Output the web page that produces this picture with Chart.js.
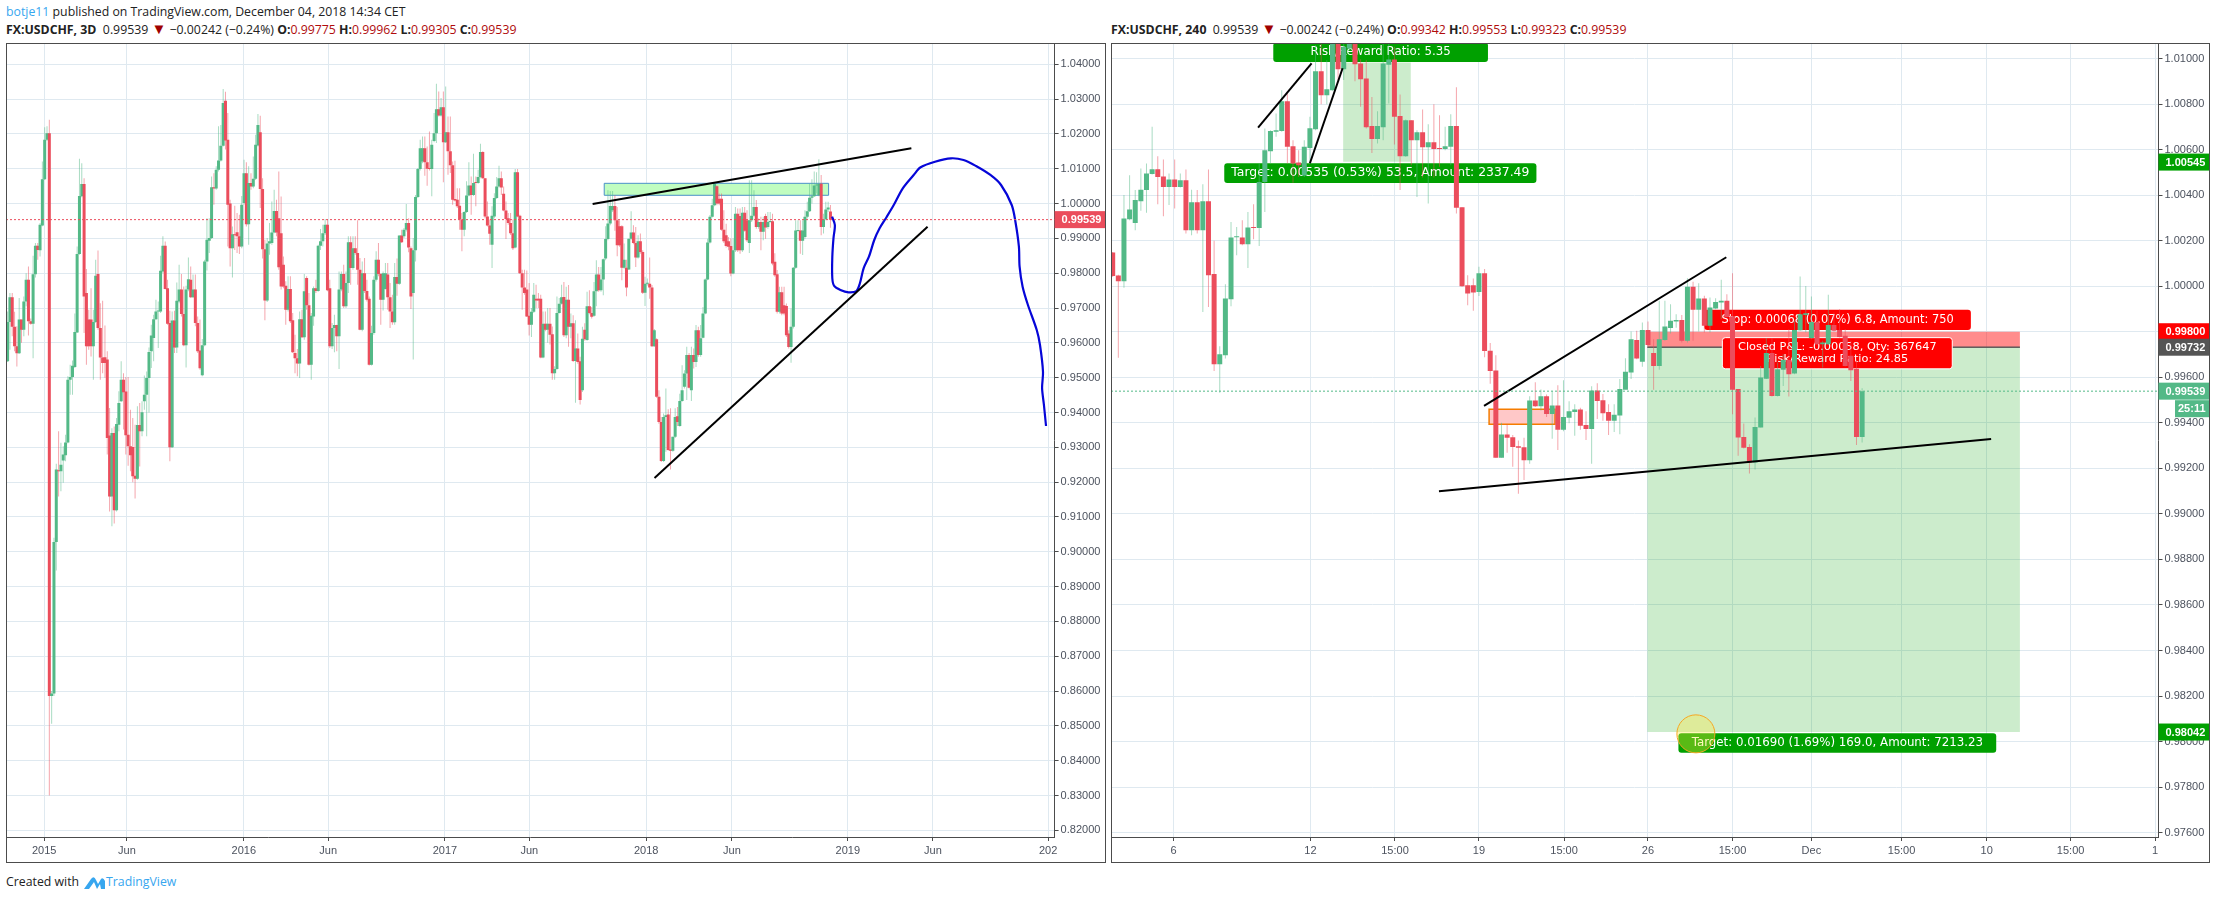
<!DOCTYPE html>
<html>
<head>
<meta charset="utf-8">
<title>USDCHF</title>
<script src="https://cdn.jsdelivr.net/npm/chart.js@4"></script>
<style>
	html, body { margin: 0; padding: 0; background: #fff; }
	body { width: 2217px; height: 899px; position: relative; overflow: hidden; font-family: "Open Sans", sans-serif; color: #222; }
	.line { position: absolute; white-space: pre; font-size: 12.3px; line-height: 17px; }
	.line b { font-weight: 700; }
	.line i { font-style: normal; color: #b00c0c; }
	.line u { text-decoration: none; color: #a00000; font-size: 15px; line-height: 1; }
	.frame { position: absolute; box-sizing: border-box; border: 1px solid #4c4c4c; top: 43px; height: 820px; pointer-events: none; }
	canvas { position: absolute; top: 43px; }
	.blue { color: #37a6ef; }
</style>
</head>
<body>
<div class="line" style="left:6px;top:3px"><span class="blue">botje11</span> published on TradingView.com, December 04, 2018 14:34 CET</div>
<div class="line" style="left:6px;top:21px"><b>FX:USDCHF, 3D</b>  0.99539 <u>▼</u> −0.00242 (−0.24%) <b>O:</b><i>0.99775</i> <b>H:</b><i>0.99962</i> <b>L:</b><i>0.99305</i> <b>C:</b><i>0.99539</i></div>
<div class="line" style="left:1111px;top:21px"><b>FX:USDCHF, 240</b>  0.99539 <u>▼</u> −0.00242 (−0.24%) <b>O:</b><i>0.99342</i> <b>H:</b><i>0.99553</i> <b>L:</b><i>0.99323</i> <b>C:</b><i>0.99539</i></div>
<canvas id="left-chart" width="1100" height="820" style="left:6px"></canvas>
<canvas id="right-chart" width="1099" height="820" style="left:1111px"></canvas>
<div class="frame" style="left:6px;width:1100px"></div>
<div class="frame" style="left:1111px;width:1099px"></div>
<div class="line" style="left:6px;top:873px">Created with</div>
<svg style="position:absolute;left:83px;top:874px" width="23" height="16" viewBox="0 0 23 16"><path d="M1 15 L8 5 Q11 1 13 6 L15 10 L18 5 Q20 3 22 7 L22 15 L18 15 L17 10 L14 15 L11 8 L6 15 Z" fill="#37a6ef"/></svg>
<div class="line blue" style="left:106px;top:873px">TradingView</div>

<script>
( function () {
	'use strict';

	// 3D candles, 2015 to Dec 2018
	var leftOpen = [
		.9547,.9660,.9731,.9646,.9590,.9570,.9667,.9638,.9719,.9781,
		.9662,.9655,.9797,.9879,.9866,.9937,1.0070,1.0183,1.0202,.8586,
		.8593,.9028,.9234,.9231,.9262,.9277,.9314,.9494,.9502,.9531,
		.9630,.9855,1.0021,1.0056,.9743,.9667,.9667,.9590,.9660,.9798,
		.9643,.9558,.9559,.9552,.9334,.9159,.9341,.9119,.9365,.9432,
		.9494,.9460,.9336,.9303,.9301,.9218,.9210,.9364,.9346,.9432,
		.9451,.9499,.9576,.9614,.9668,.9690,.9690,.9805,.9879,.9757,
		.9657,.9300,.9664,.9587,.9719,.9753,.9683,.9593,.9753,.9781,
		.9731,.9753,.9657,.9578,.9507,.9593,.9834,.9893,.9901,1.0047,
		1.0043,1.0097,1.0124,1.0166,1.0295,1.0183,1.0000,.9872,.9912,.9918,
		.9906,.9877,1.0002,1.0087,.9941,1.0059,1.0049,1.0071,1.0167,1.0205,
		1.0042,.9869,.9722,.9885,.9887,.9917,.9979,.9958,.9915,.9824,
		.9764,.9695,.9755,.9665,.9571,.9556,.9541,.9668,.9616,.9786,
		.9708,.9537,.9676,.9757,.9749,.9879,.9892,.9915,.9939,.9757,
		.9590,.9643,.9651,.9619,.9753,.9798,.9705,.9772,.9889,.9815,
		.9872,.9858,.9810,.9638,.9800,.9749,.9727,.9537,.9628,.9781,
		.9839,.9798,.9724,.9755,.9796,.9731,.9690,.9659,.9789,.9770,
		.9908,.9906,.9925,.9944,.9872,.9743,.9866,1.0019,1.0099,1.0121,
		1.0159,1.0119,1.0102,1.0099,1.0180,1.0202,1.0271,1.0253,1.0277,1.0176,
		1.0205,1.0150,1.0110,1.0013,1.0011,.9994,.9954,.9925,.9976,1.0023,
		1.0052,1.0025,1.0062,1.0059,1.0076,1.0148,1.0073,.9963,.9937,.9882,
		.9963,1.0016,1.0049,1.0073,1.0028,.9980,.9958,.9944,.9915,.9874,
		1.0090,.9965,.9800,.9759,.9753,.9678,.9652,.9689,.9727,.9727,
		.9727,.9558,.9655,.9638,.9655,.9625,.9513,.9525,.9686,.9712,
		.9732,.9622,.9724,.9646,.9656,.9548,.9584,.9547,.9464,.9638,
		.9608,.9705,.9686,.9678,.9748,.9796,.9751,.9782,.9842,.9898,
		.9943,.9981,.9993,.9952,.9935,.9935,.9816,.9816,.9811,.9899,
		.9917,.9887,.9845,.9892,.9861,.9744,.9770,.9770,.9759,.9590,
		.9610,.9445,.9373,.9261,.9387,.9394,.9294,.9290,.9330,.9389,
		.9361,.9433,.9474,.9512,.9565,.9464,.9565,.9545,.9636,.9565,
		.9615,.9684,.9782,.9888,.9962,.9995,1.0050,1.0014,1.0014,.9925,
		.9909,.9892,.9878,.9799,.9866,.9971,.9964,.9866,.9974,.9952,
		.9887,.9952,.9965,.9990,.9933,.9947,.9919,.9964,.9933,.9947,
		.9949,.9833,.9797,.9689,.9745,.9708,.9706,.9627,.9588,.9646,
		.9816,.9921,.9923,.9893,.9904,.9962,.9978,1.0017,1.0021,1.0052,
		1.0024,1.0057,.9933,.9955,.9983,.99775
	];
	var leftHigh = [
		.9690,.9743,.9743,.9689,.9648,.9729,.9667,.9733,.9800,.9819,
		.9670,.9850,.9887,.9887,.9944,1.0121,1.0219,1.0222,1.0241,.8600,
		.9040,.9253,.9346,.9313,.9303,.9336,.9504,.9537,.9549,.9684,
		.9877,1.0129,1.0116,1.0073,.9812,.9695,.9757,.9695,.9839,.9865,
		.9714,.9721,.9650,.9576,.9413,.9355,.9360,.9384,.9461,.9547,
		.9513,.9502,.9502,.9408,.9384,.9365,.9418,.9427,.9432,.9506,
		.9518,.9587,.9652,.9681,.9724,.9719,.9850,.9906,.9891,.9781,
		.9692,.9690,.9692,.9773,.9824,.9798,.9762,.9764,.9845,.9819,
		.9796,.9796,.9676,.9667,.9611,.9839,.9958,.9958,1.0078,1.0087,
		1.0107,1.0222,1.0226,1.0329,1.0321,1.0260,1.0011,.9934,.9994,.9973,
		.9968,1.0022,1.0126,1.0119,1.0107,1.0087,1.0135,1.0198,1.0257,1.0252,
		1.0073,.9896,.9901,.9944,1.0006,1.0040,1.0011,1.0092,1.0020,.9848,
		.9777,.9791,.9791,.9686,.9623,.9582,.9690,.9695,.9798,.9791,
		.9743,.9686,.9762,.9781,.9882,.9927,.9939,.9956,.9956,.9781,
		.9657,.9681,.9652,.9805,.9805,.9824,.9805,.9906,.9906,.9906,
		.9906,.9952,.9844,.9834,.9844,.9781,.9733,.9649,.9791,.9863,
		.9887,.9800,.9805,.9829,.9829,.9772,.9738,.9829,.9842,.9908,
		.9925,.9930,.9999,.9958,.9877,.9901,1.0025,1.0102,1.0183,1.0193,
		1.0193,1.0164,1.0207,1.0183,1.0260,1.0344,1.0322,1.0303,1.0322,1.0336,
		1.0250,1.0250,1.0121,1.0123,1.0044,1.0044,.9973,.9978,1.0064,1.0119,
		1.0078,1.0143,1.0078,1.0097,1.0172,1.0150,1.0073,1.0006,.9954,.9992,
		1.0030,1.0076,1.0109,1.0092,1.0049,1.0006,.9973,.9973,.9954,1.0099,
		1.0099,.9968,.9810,.9810,.9808,.9772,.9700,.9772,.9767,.9743,
		.9738,.9690,.9690,.9700,.9700,.9647,.9533,.9733,.9729,.9767,
		.9775,.9761,.9766,.9684,.9679,.9665,.9627,.9560,.9646,.9656,
		.9747,.9751,.9703,.9775,.9837,.9818,.9818,.9842,.9935,1.0038,
		1.0036,1.0036,1.0024,.9990,.9952,.9938,.9885,.9839,.9899,.9978,
		.9938,.9933,.9909,.9914,.9866,.9790,.9785,.9845,.9766,.9640,
		.9613,.9464,.9387,.9397,.9469,.9409,.9412,.9330,.9412,.9416,
		.9454,.9536,.9521,.9589,.9571,.9589,.9584,.9651,.9646,.9651,
		.9703,.9785,.9899,.9967,1.0014,1.0059,1.0053,1.0029,1.0029,.9981,
		.9942,.9904,.9900,.9900,.9990,.9986,.9986,.9990,.9990,.9981,
		1.0067,1.0067,1.0038,1.0010,.9957,.9962,.9962,.9971,.9976,.9976,
		.9971,.9857,.9809,.9761,.9761,.9761,.9713,.9636,.9699,.9818,
		.9952,.9952,.9952,.9952,.9981,1.0005,1.0057,1.0070,1.0092,1.0090,
		1.0127,1.0082,.9971,1.0005,1.0005,.99962
	];
	var leftLow = [
		.9545,.9580,.9619,.9576,.9532,.9568,.9600,.9619,.9705,.9621,
		.9652,.9556,.9788,.9839,.9848,.9935,1.0068,1.0180,.8300,.8506,
		.8586,.8946,.9159,.9174,.9198,.9260,.9312,.9451,.9451,.9528,
		.9628,.9853,1.0018,.9628,.9537,.9580,.9561,.9494,.9657,.9638,
		.9494,.9513,.9500,.9279,.9116,.9073,.9081,.9116,.9346,.9430,
		.9351,.9279,.9247,.9231,.9200,.9153,.9207,.9245,.9332,.9408,
		.9332,.9400,.9528,.9547,.9666,.9585,.9686,.9800,.9753,.9652,
		.9260,.9298,.9571,.9571,.9714,.9676,.9590,.9529,.9748,.9729,
		.9729,.9648,.9571,.9523,.9504,.9590,.9808,.9858,.9898,.9997,
		1.0040,1.0092,1.0121,1.0164,1.0155,.9877,.9819,.9788,.9867,.9858,
		.9855,.9872,.9997,.9934,.9882,1.0040,1.0044,1.0068,1.0164,.9987,
		.9842,.9665,.9717,.9853,.9882,.9915,.9906,.9810,.9753,.9757,
		.9652,.9690,.9657,.9571,.9513,.9504,.9499,.9614,.9609,.9695,
		.9535,.9494,.9649,.9743,.9747,.9867,.9877,.9910,.9748,.9585,
		.9582,.9573,.9576,.9525,.9748,.9700,.9700,.9743,.9767,.9810,
		.9853,.9767,.9636,.9633,.9743,.9719,.9535,.9535,.9623,.9776,
		.9791,.9652,.9693,.9753,.9695,.9643,.9652,.9652,.9735,.9767,
		.9887,.9901,.9920,.9860,.9697,.9552,.9834,1.0016,1.0095,1.0116,
		1.0080,1.0051,1.0095,1.0021,1.0176,1.0174,1.0250,1.0250,1.0061,1.0174,
		1.0083,1.0088,.9997,1.0006,.9987,.9925,.9863,.9906,.9973,1.0021,
		.9968,1.0022,.9992,1.0057,1.0073,1.0071,.9958,.9934,.9882,.9815,
		.9958,1.0013,1.0046,1.0025,.9978,.9898,.9939,.9910,.9867,.9872,
		.9961,.9798,.9695,.9738,.9674,.9621,.9617,.9686,.9700,.9700,
		.9556,.9556,.9633,.9600,.9595,.9494,.9494,.9523,.9684,.9710,
		.9617,.9613,.9589,.9613,.9545,.9428,.9540,.9423,.9459,.9606,
		.9606,.9682,.9670,.9675,.9705,.9747,.9747,.9737,.9837,.9895,
		.9938,.9976,.9922,.9849,.9876,.9780,.9813,.9734,.9809,.9896,
		.9883,.9818,.9842,.9856,.9740,.9706,.9765,.9727,.9588,.9588,
		.9442,.9368,.9258,.9258,.9287,.9290,.9236,.9287,.9327,.9361,
		.9359,.9431,.9469,.9436,.9469,.9433,.9526,.9531,.9560,.9560,
		.9613,.9682,.9780,.9885,.9960,.9992,.9995,.9995,.9922,.9887,
		.9874,.9866,.9791,.9797,.9861,.9861,.9856,.9861,.9919,.9890,
		.9858,.9947,.9962,.9928,.9928,.9866,.9895,.9899,.9928,.9945,
		.9823,.9790,.9684,.9684,.9679,.9679,.9617,.9584,.9543,.9641,
		.9813,.9919,.9856,.9852,.9899,.9957,.9976,1.0000,1.0019,1.0029,
		1.0021,.9909,.9914,.9952,.9976,.99305
	];
	var leftClose = [
		.9660,.9731,.9646,.9590,.9570,.9667,.9638,.9719,.9781,.9662,
		.9655,.9797,.9879,.9867,.9939,1.0070,1.0183,1.0202,.8586,.8593,
		.9028,.9236,.9231,.9250,.9279,.9314,.9494,.9502,.9534,.9631,
		.9855,1.0022,1.0056,.9733,.9590,.9590,.9590,.9660,.9793,.9643,
		.9558,.9542,.9542,.9327,.9159,.9341,.9119,.9367,.9427,.9494,
		.9458,.9335,.9303,.9277,.9217,.9210,.9364,.9346,.9401,.9451,
		.9499,.9574,.9621,.9668,.9690,.9693,.9807,.9879,.9755,.9655,
		.9300,.9664,.9587,.9721,.9753,.9683,.9593,.9753,.9783,.9731,
		.9753,.9657,.9576,.9527,.9593,.9834,.9896,.9901,1.0047,1.0043,
		1.0097,1.0124,1.0166,1.0289,1.0181,.9997,.9872,.9912,.9909,.9906,
		.9877,.9997,1.0087,.9941,1.0059,1.0049,1.0071,1.0169,1.0226,1.0042,
		.9869,.9722,.9885,.9892,.9917,.9979,.9917,.9817,.9762,.9762,
		.9695,.9755,.9662,.9573,.9556,.9541,.9668,.9616,.9748,.9708,
		.9537,.9678,.9757,.9749,.9879,.9892,.9915,.9939,.9751,.9590,
		.9643,.9651,.9619,.9753,.9798,.9705,.9772,.9889,.9815,.9872,
		.9858,.9810,.9638,.9800,.9749,.9724,.9537,.9628,.9781,.9839,
		.9798,.9724,.9800,.9800,.9731,.9690,.9659,.9789,.9770,.9908,
		.9889,.9925,.9944,.9874,.9733,.9866,1.0019,1.0099,1.0159,1.0159,
		1.0119,1.0100,1.0099,1.0169,1.0202,1.0271,1.0253,1.0277,1.0176,1.0205,
		1.0150,1.0110,1.0011,1.0009,.9992,.9954,.9925,.9976,1.0023,1.0052,
		1.0025,1.0059,1.0059,1.0076,1.0148,1.0073,.9963,.9937,.9913,.9965,
		1.0016,1.0049,1.0073,1.0046,.9980,.9956,.9944,.9915,.9872,1.0090,
		.9963,.9800,.9759,.9743,.9676,.9652,.9689,.9738,.9722,.9722,
		.9558,.9655,.9638,.9655,.9623,.9513,.9525,.9686,.9712,.9731,
		.9622,.9724,.9646,.9656,.9548,.9584,.9545,.9436,.9612,.9610,
		.9705,.9686,.9675,.9748,.9796,.9751,.9782,.9840,.9898,.9943,
		.9993,.9993,.9952,.9880,.9880,.9816,.9839,.9759,.9899,.9917,
		.9887,.9845,.9892,.9861,.9744,.9770,.9772,.9759,.9590,.9636,
		.9445,.9373,.9261,.9387,.9392,.9292,.9290,.9330,.9387,.9373,
		.9433,.9464,.9512,.9565,.9471,.9565,.9545,.9636,.9565,.9613,
		.9684,.9782,.9888,.9962,.9995,1.0056,1.0000,1.0000,.9925,.9892,
		.9878,.9876,.9799,.9866,.9971,.9866,.9866,.9974,.9922,.9895,
		.9952,.9965,.9990,.9933,.9947,.9919,.9947,.9931,.9947,.9950,
		.9828,.9794,.9689,.9745,.9684,.9684,.9622,.9588,.9646,.9816,
		.9923,.9923,.9893,.9923,.9962,.9978,1.0017,1.0021,1.0052,1.0053,
		1.0056,.9933,.9955,.9983,.9989,.99539
	];

	// 240 minute candles
	var rightOpen = [
		1.00148,1.00047,1.00022,1.00294,1.00278,1.00373,1.00422,1.00493,1.00514,1.00482,
		1.00436,1.00468,1.00436,1.00465,1.00246,1.00369,1.00246,1.00373,1.00053,.99657,
		.99697,.99943,1.00215,1.00214,1.00184,1.00258,1.00256,1.00458,1.00593,1.00678,
		1.00681,1.00812,1.00615,1.00543,1.00486,1.00607,1.00689,1.00944,1.00839,1.00861,
		1.01124,1.00953,1.01044,1.01066,1.00978,1.00912,1.00703,1.00646,1.00698,1.00973,
		1.00995,1.00747,1.00571,1.00729,1.00641,1.00676,1.0061,1.00632,1.00605,1.00603,
		1.00612,1.00703,1.00347,1.00004,1.00004,.99975,1.00057,.99717,.9963,.99246,
		.99349,.99337,.99297,.99293,.99236,.99498,.99473,.99517,.99439,.99476,
		.99369,.99422,.99448,.99458,.9939,.99373,.99542,.99499,.99447,.99409,
		.99432,.99545,.99621,.99764,.99668,.99808,.99707,.9965,.99764,.99816,
		.99845,.99852,.9976,.99997,.99896,.99946,.99826,.99902,.99928,.99936,
		.99868,.99548,.99338,.99294,.99226,.99379,.99594,.99707,.99518,.99633,
		.99676,.99616,.99807,.99873,.99772,.99843,.99745,.99745,.9983,.99808,
		.99782,.99694,.99637,.99338
	];
	var rightHigh = [
		1.0015,1.0005,1.004,1.00487,1.00422,1.00517,1.00539,1.007,1.00571,1.00556,
		1.00495,1.00556,1.00495,1.00512,1.00424,1.00422,1.00448,1.00512,1.002,.99736,
		1.00009,1.00282,1.0026,1.0029,1.00326,1.0036,1.00539,1.00692,1.00685,1.00758,
		1.00861,1.00846,1.00641,1.00597,1.00641,1.00744,1.01058,1.0111,1.00992,1.01168,
		1.01168,1.0111,1.0111,1.01117,1.00997,1.00992,1.00831,1.00768,1.01124,1.01124,
		1.01051,1.00842,1.00732,1.00729,1.00685,1.00776,1.00711,1.00799,1.00751,1.007,
		1.00755,1.00874,1.00347,1.00048,1.00034,1.00085,1.00075,.9975,.99697,.994,
		.99395,.99346,.99322,.99334,.99517,.99578,.99546,.99524,.99539,.99565,
		.99587,.99495,.99481,.99466,.99451,.99561,.99574,.99526,.99482,.99482,
		.99592,.99684,.99801,.99804,.9984,.99845,.99767,.99936,.99936,.99921,
		.99877,.99874,1.00035,1.0002,1.00013,.99958,.9995,.99947,1.00028,.99965,
		1.00057,.99548,.99397,.99306,.99423,.9965,.99772,.99772,.99665,.99701,
		.99811,.99848,1.00042,1.00001,.99955,.99892,.9976,.99962,.99884,.99899,
		.99811,.9976,.99672,.99552
	];
	var rightLow = [
		1.0004,.99686,.99993,1.0029,1.00246,1.00331,1.00322,1.0049,1.0036,1.00307,
		1.00356,1.00341,1.00433,1.00231,1.00224,1.00231,.99887,.99909,.99627,.99532,
		.99682,.99912,1.00136,1.0018,1.0008,1.00206,1.00177,1.00326,1.00539,1.00656,
		1.00678,1.00539,1.00454,1.0048,1.0048,1.00539,1.00685,1.00799,1.00799,1.00858,
		1.00905,1.00905,1.0104,1.009,1.00788,1.00692,1.00585,1.00627,1.00641,1.00802,
		1.00622,1.00422,1.00568,1.00531,1.00392,1.00477,1.00363,1.00477,1.00524,1.00597,
		1.00531,1.00319,.99997,.99916,.99892,.99957,.99688,.99571,.99246,.99246,
		.99268,.99207,.99088,.99149,.9922,.99469,.99454,.99426,.9933,.99281,
		.99363,.99398,.99343,.99369,.99325,.9922,.99417,.99409,.99347,.9936,
		.9935,.99592,.99592,.99679,.99646,.99738,.99545,.99633,.9976,.99792,
		.99818,.99753,.99753,.9976,.99801,.99797,.99797,.99899,.99855,.99862,
		.99438,.99255,.99287,.99177,.99195,.99379,.99592,.99515,.99515,.99562,
		.99515,.99613,.99804,.99797,.99767,.99742,.99643,.99742,.99801,.99775,
		.99647,.99584,.99303,.99313
	];
	var rightClose = [
		1.00045,1.00022,1.00297,1.00337,1.00378,1.00424,1.00495,1.00514,1.0048,1.00436,
		1.00468,1.00436,1.00465,1.00246,1.00369,1.00246,1.00373,1.00048,.99657,.99701,
		.99946,1.00214,1.00215,1.00184,1.00258,1.00255,1.00458,1.00597,1.00681,1.00685,
		1.00812,1.00612,1.00539,1.00531,1.00612,1.00694,1.00944,1.00839,1.00865,1.01066,
		1.00953,1.01051,1.01066,1.00975,1.00909,1.00698,1.00646,1.00703,1.00978,1.00995,
		1.00744,1.00571,1.00729,1.00641,1.00676,1.0061,1.00632,1.00603,1.00602,1.00615,
		1.00703,1.00344,1.00000,.99968,.99972,1.00057,.99715,.99627,.99246,.99349,
		.99334,.99294,.9929,.99236,.99498,.99473,.99517,.99439,.99476,.99369,
		.99425,.99451,.99458,.99387,.99373,.99542,.99496,.99442,.99409,.99435,
		.99548,.99624,.99767,.99682,.99808,.99742,.9965,.99767,.99823,.99848,
		.99852,.9976,.99997,.99896,.99946,.99826,.99906,.99931,.99936,.99865,
		.99545,.99335,.9929,.99226,.99382,.99599,.99707,.99518,.99635,.99676,
		.99613,.99808,.99877,.99881,.99843,.99745,.99753,.9983,.99804,.99777,
		.9965,.99631,.99338,.99539
	];

	var leftPriceTicks = [ 1.04, 1.03, 1.02, 1.01, 1.00, .99, .98, .97, .96, .95, .94, .93, .92, .91, .90, .89, .88, .87, .86, .85, .84, .83, .82 ];
	var rightPriceTicks = [ 1.01, 1.008, 1.006, 1.004, 1.002, 1.0, .998, .996, .994, .992, .99, .988, .986, .984, .982, .98, .978, .976 ];
	var leftTimeTicks = [ 15.8, 51.5, 101.9, 138.3, 188.7, 225.1, 275.5, 312.5, 362.5, 399.2, 448.9 ];
	var leftTimeLabels = [ '2015', 'Jun', '2016', 'Jun', '2017', 'Jun', '2018', 'Jun', '2019', 'Jun', '202' ];
	var rightTimeTicks = [ 10.8, 35.1, 50.1, 65, 80.1, 95, 110, 124, 140, 155.1, 170, 185 ];
	var rightTimeLabels = [ '6', '12', '15:00', '19', '15:00', '26', '15:00', 'Dec', '15:00', '10', '15:00', '1' ];

	// hand drawn blue path on the 3D chart
	var blueBars = [ 355.7, 356.9, 356.3, 355.8, 355.8, 356.6, 359.3, 362.8, 366.2, 367.7, 369.3, 371.6, 373.9, 376.2, 379.3, 382.3, 386.2, 390.9, 393.9, 400.1, 407, 412.4, 417.8, 424, 428.6, 433.2, 434.8, 436.3, 436.6, 437.9, 440.2, 444, 445.4, 446.7, 446.3, 447.1, 448 ];
	var bluePrices = [ .99623, .99385, .99003, .98475, .97854, .97633, .97518, .97452, .97489, .97711, .98141, .98475, .98954, .9929, .99623, .99959, 1.00439, 1.00821, 1.01042, 1.01203, 1.013, 1.01252, 1.01079, 1.00821, 1.00534, .99959, .9948, .98762, .98187, .97613, .97087, .96369, .95939, .95163, .94703, .94215, .93612 ];

	var UP = '#53b987';
	var DOWN = '#eb4d5c';
	var UP_WICK = 'rgba(83, 185, 135, 0.5)';
	var DOWN_WICK = 'rgba(235, 77, 92, 0.5)';
	var GRID = '#dfe9f0';
	var AXIS = '#4c4c4c';
	var LABEL_GREEN = '#00a000';

	function points( xs, ys ) {
		return xs.map( function ( x, i ) {
			return { x: x, y: ys[ i ] };
		} );
	}

	function lineDataset( xs, ys, color, width, dash ) {
		return {
			type: 'line',
			data: points( xs, ys ),
			borderColor: color,
			borderWidth: width,
			borderDash: dash || [],
			pointRadius: 0,
			tension: 0,
			order: 0,
		};
	}

	function candleDatasets( open, high, low, close, bodyWidth ) {
		var isUp = close.map( function ( c, i ) {
			return c >= open[ i ];
		} );
		return [
			{
				data: low.map( function ( l, i ) {
					return { x: i, y: [ l, high[ i ] ] };
				} ),
				backgroundColor: isUp.map( function ( up ) {
					return up ? UP_WICK : DOWN_WICK;
				} ),
				barThickness: 1,
				inflateAmount: 0,
				grouped: false,
				order: 2,
			},
			{
				data: open.map( function ( o, i ) {
					return { x: i, y: [ o, close[ i ] ] };
				} ),
				backgroundColor: isUp.map( function ( up ) {
					return up ? UP : DOWN;
				} ),
				barThickness: bodyWidth,
				minBarLength: 1,
				inflateAmount: 0,
				grouped: false,
				order: 1,
			},
		];
	}

	function drawBox( ctx, scales, b ) {
		var x0 = scales.x.getPixelForValue( b.x0 );
		var x1 = scales.x.getPixelForValue( b.x1 );
		var y0 = scales.y.getPixelForValue( b.y0 );
		var y1 = scales.y.getPixelForValue( b.y1 );
		ctx.beginPath();
		if ( b.radius ) {
			ctx.roundRect( x0, y0, x1 - x0, y1 - y0, b.radius );
		} else {
			ctx.rect( x0, y0, x1 - x0, y1 - y0 );
		}
		ctx.fillStyle = b.fill;
		ctx.fill();
		if ( b.stroke ) {
			ctx.lineWidth = b.strokeWidth || 1;
			ctx.strokeStyle = b.stroke;
			ctx.stroke();
		}
		if ( b.text ) {
			var lineH = 12;
			var cy = ( y0 + y1 ) / 2 - ( b.text.length - 1 ) * lineH / 2;
			ctx.font = ( b.size || 12 ) + 'px "DejaVu Sans"';
			ctx.fillStyle = '#fff';
			ctx.textAlign = 'center';
			ctx.textBaseline = 'middle';
			b.text.forEach( function ( t, i ) {
				ctx.fillText( t, ( x0 + x1 ) / 2, cy + i * lineH );
			} );
		}
	}

	// boxes and labels sit below the candles, tags and the circle on top
	function annotations( boxes, tags, circles ) {
		return {
			id: 'annotations',
			beforeDatasetsDraw: function ( chart ) {
				var area = chart.chartArea;
				var ctx = chart.ctx;
				ctx.save();
				ctx.beginPath();
				ctx.rect( area.left, area.top, area.right - area.left, area.bottom - area.top );
				ctx.clip();
				boxes.forEach( function ( b ) {
					drawBox( ctx, chart.scales, b );
				} );
				ctx.restore();
			},
			afterDraw: function ( chart ) {
				var ctx = chart.ctx;
				var area = chart.chartArea;
				ctx.save();
				circles.forEach( function ( c ) {
					ctx.beginPath();
					ctx.arc( chart.scales.x.getPixelForValue( c.x ), chart.scales.y.getPixelForValue( c.y ), c.r, 0, Math.PI * 2 );
					ctx.fillStyle = 'rgba(255, 235, 59, 0.35)';
					ctx.fill();
					ctx.lineWidth = 1;
					ctx.strokeStyle = '#f5a623';
					ctx.stroke();
				} );
				tags.forEach( function ( t ) {
					var y = chart.scales.y.getPixelForValue( t.y );
					var left = area.right + ( t.inset || 0 );
					ctx.fillStyle = t.fill;
					ctx.fillRect( left, y - 8.5, chart.width - 1 - left, 17 );
					ctx.fillStyle = '#fff';
					ctx.font = 'bold 11px "Liberation Sans"';
					ctx.textAlign = 'left';
					ctx.textBaseline = 'middle';
					ctx.fillText( t.text, left + ( t.inset ? 3 : 7 ), y + 0.5 );
				} );
				ctx.restore();
			},
		};
	}

	function makePanel( id, cfg ) {
		return new Chart( document.getElementById( id ), {
			type: 'bar',
			data: { datasets: cfg.datasets },
			plugins: [ annotations( cfg.boxes, cfg.tags, cfg.circles ) ],
			options: {
				responsive: false,
				animation: false,
				devicePixelRatio: 1,
				layout: { padding: 0 },
				plugins: { legend: { display: false }, tooltip: { enabled: false } },
				scales: {
					x: {
						type: 'linear',
						min: cfg.xMin,
						max: cfg.xMax,
						offset: false,
						grid: { offset: false, color: GRID, tickColor: AXIS, tickLength: 4 },
						border: { color: AXIS, width: 1 },
						afterBuildTicks: function ( scale ) {
							scale.ticks = cfg.timeTicks.map( function ( v ) {
								return { value: v };
							} );
						},
						afterFit: function ( scale ) {
							scale.height = 26;
							scale.paddingLeft = 0;
							scale.paddingRight = 0;
						},
						ticks: {
							autoSkip: false,
							maxRotation: 0,
							padding: 3,
							color: '#4c525e',
							font: { family: '"Liberation Sans"', size: 11 },
							callback: function ( v, i ) {
								return cfg.timeLabels[ i ];
							},
						},
					},
					y: {
						position: 'right',
						min: cfg.yMin,
						max: cfg.yMax,
						grid: { color: GRID, tickColor: AXIS, tickLength: 4 },
						border: { color: AXIS, width: 1 },
						afterBuildTicks: function ( scale ) {
							scale.ticks = cfg.priceTicks.map( function ( v ) {
								return { value: v };
							} );
						},
						afterFit: function ( scale ) {
							scale.width = cfg.axisWidth;
							scale.paddingTop = 0;
							scale.paddingBottom = 0;
						},
						ticks: {
							padding: 2,
							color: '#4c525e',
							font: { family: '"Liberation Sans"', size: 11 },
							callback: function ( v ) {
								return v.toFixed( 5 );
							},
						},
					},
				},
			},
		} );
	}

	makePanel( 'left-chart', {
		xMin: -0.69,
		xMax: 451.7,
		yMin: .81808,
		yMax: 1.04612,
		axisWidth: 51.4,
		timeTicks: leftTimeTicks,
		timeLabels: leftTimeLabels,
		priceTicks: leftPriceTicks,
		datasets: candleDatasets( leftOpen, leftHigh, leftLow, leftClose, 3 ).concat( [
			lineDataset( [ -0.69, 451.7 ], [ .99539, .99539 ], DOWN, 1, [ 2, 2 ] ),
			lineDataset( [ 252.4, 389.9 ], [ .99988, 1.01588 ], '#000', 2 ),
			lineDataset( [ 279.1, 396.9 ], [ .92119, .99336 ], '#000', 2 ),
			Object.assign( lineDataset( blueBars, bluePrices, '#0606d8', 2.2 ), { tension: 0.3 } ),
		] ),
		boxes: [
			{ x0: 257.4, x1: 354.2, y0: 1.00582, y1: 1.00238, fill: '#c0fdc0', stroke: '#4a90c8' },
		],
		tags: [
			{ y: .99539, text: '0.99539', fill: DOWN },
		],
		circles: [],
	} );

	makePanel( 'right-chart', {
		xMin: -0.3,
		xMax: 185.6,
		yMin: .97581,
		yMax: 1.01068,
		axisWidth: 51.5,
		timeTicks: rightTimeTicks,
		timeLabels: rightTimeLabels,
		priceTicks: rightPriceTicks,
		datasets: candleDatasets( rightOpen, rightHigh, rightLow, rightClose, 5 ).concat( [
			lineDataset( [ -0.3, 185.6 ], [ .99539, .99539 ], UP, 1, [ 2, 2 ] ),
			lineDataset( [ 25.8, 35.3 ], [ 1.00696, 1.00979 ], '#000', 2 ),
			lineDataset( [ 35, 40.8 ], [ 1.0054, 1.00957 ], '#000', 2 ),
			lineDataset( [ 65.9, 108.9 ], [ .99474, 1.00127 ], '#000', 2 ),
			lineDataset( [ 57.9, 155.9 ], [ .99099, .99329 ], '#000', 2 ),
		] ),
		boxes: [
			{ x0: 40.9, x1: 52.9, y0: 1.00982, y1: 1.00547, fill: 'rgba(0, 160, 0, 0.2)' },
			{ x0: 94.9, x1: 161, y0: .99732, y1: .98042, fill: 'rgba(0, 160, 0, 0.2)' },
			{ x0: 94.9, x1: 161, y0: .998, y1: .99732, fill: 'rgba(255, 0, 0, 0.45)' },
			{ x0: 94.9, x1: 161, y0: .99732, y1: .99732, fill: 'transparent', stroke: '#555' },
			{ x0: 66.8, x1: 78.5, y0: .9946, y1: .99394, fill: '#ffc8c8', stroke: '#f57c00', strokeWidth: 1.5 },
			{ x0: 28.5, x1: 66.6, y0: 1.0107, y1: 1.00985, fill: LABEL_GREEN, radius: 3, size: 11.8, text: [ 'Risk/Reward Ratio: 5.35' ] },
			{ x0: 19.8, x1: 75.2, y0: 1.0054, y1: 1.00453, fill: LABEL_GREEN, radius: 3, size: 12.4, text: [ 'Target: 0.00535 (0.53%) 53.5, Amount: 2337.49' ] },
			{ x0: 105, x1: 152.3, y0: .99896, y1: .99808, fill: '#ff0000', radius: 3, size: 11.4, text: [ 'Stop: 0.00068 (0.07%) 6.8, Amount: 750' ] },
			{ x0: 108.2, x1: 149, y0: .99774, y1: .99637, fill: '#ff0000', stroke: '#fff', radius: 3, size: 11.3, text: [ 'Closed P&L: -0.00058, Qty: 367647', 'Risk/Reward Ratio: 24.85' ] },
			{ x0: 100.4, x1: 156.8, y0: .98037, y1: .97951, fill: LABEL_GREEN, radius: 3, size: 11.8, text: [ 'Target: 0.01690 (1.69%) 169.0, Amount: 7213.23' ] },
		],
		tags: [
			{ y: 1.00545, text: '1.00545', fill: LABEL_GREEN },
			{ y: .998, text: '0.99800', fill: '#ff0000' },
			{ y: .99732, text: '0.99732', fill: '#555' },
			{ y: .99539, text: '0.99539', fill: UP },
			{ y: .99462, text: '25:11', fill: UP, inset: 16.5 },
			{ y: .98042, text: '0.98042', fill: LABEL_GREEN },
		],
		circles: [
			{ x: 103.5, y: .98034, r: 19 },
		],
	} );
}() );
</script>
</body>
</html>
